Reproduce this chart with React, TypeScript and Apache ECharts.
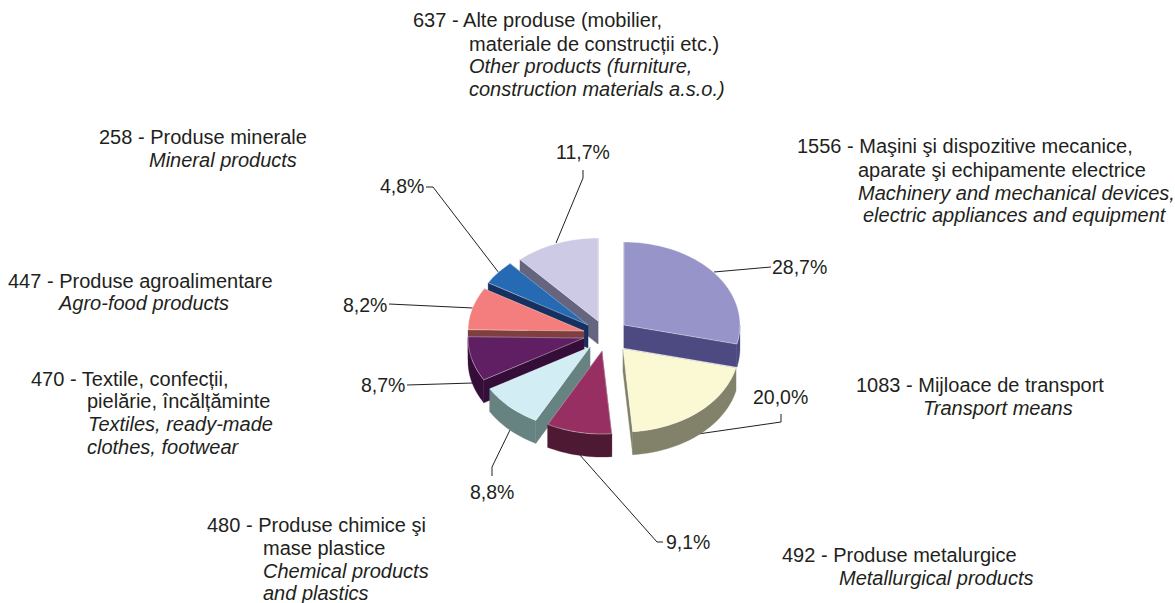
import React, { useEffect, useRef } from "react";
import * as echarts from "echarts";

const names = ["Masini", "Transport", "Metalurgice", "Chimice", "Textile", "Agroalimentare", "Minerale", "Alte"];
const values = [1556, 1083, 492, 480, 470, 447, 258, 637];
const percentLabels = ["28,7%", "20,0%", "9,1%", "8,8%", "8,7%", "8,2%", "4,8%", "11,7%"];
const topColors = ["#9694c8", "#fbf9d4", "#972f62", "#d3edf4", "#611f63", "#f47d7d", "#266ab3", "#cdcae6"];
const sideColors = ["#4c4a80", "#82826a", "#4e1a33", "#668281", "#350d39", "#7f3f3f", "#16305f", "#666580"];
const explodeX = [0, -1, -22, -34, -40, -40, -36, -26];
const explodeY = [0, 24, 26, 22, 13, 6, 0, -4];
const drawOrder = [7, 0, 6, 5, 4, 3, 2, 1];

const CX = 624;
const CY = 325;
const RX = 116;
const RY = 83;
const DEPTH = 23;
const TEXT = "#231f20";
const FONT = "Liberation Sans, Arial, sans-serif";
const FONT_SIZE = 20;
const PCT_SIZE = 19.5;

type Line = [number, number, string, boolean?];
const textLines: Line[] = [
  [413, 20, "637 - Alte produse (mobilier,"],
  [469, 44, "materiale de construcții etc.)"],
  [469, 66, "Other products (furniture,", true],
  [469, 89, "construction materials a.s.o.)", true],
  [99, 137, "258 - Produse minerale"],
  [149, 160, "Mineral products", true],
  [797, 146, "1556 - Maşini şi dispozitive mecanice,"],
  [858, 170, "aparate şi echipamente electrice"],
  [858, 193, "Machinery and mechanical devices,", true],
  [863, 215, "electric appliances and equipment", true],
  [8, 281, "447 - Produse agroalimentare"],
  [59, 303, "Agro-food products", true],
  [31, 379, "470 - Textile, confecții,"],
  [87, 401, "pielărie, încălțăminte"],
  [88, 424, "Textiles, ready-made", true],
  [87, 447, "clothes, footwear", true],
  [207, 525, "480 - Produse chimice şi"],
  [263, 548, "mase plastice"],
  [263, 571, "Chemical products", true],
  [263, 593, "and plastics", true],
  [782, 555, "492 - Produse metalurgice"],
  [839, 578, "Metallurgical products", true],
  [856, 385, "1083 - Mijloace de transport"],
  [923, 408, "Transport means", true],
];
const percentX = [772, 753, 666, 470, 361, 343, 380, 556];
const percentY = [267, 397, 542, 492, 385, 305, 186, 152];
const leaders: number[][][] = [
  [[714, 272], [771, 267]],
  [[698, 434], [781, 422], [781, 414]],
  [[579, 454], [657, 542], [663, 542]],
  [[510, 430], [492, 467], [492, 476]],
  [[473, 383], [407, 385]],
  [[473, 308], [389, 304]],
  [[499, 273], [433, 187], [426, 187]],
  [[556, 243], [583, 178], [583, 170]],
];

const total = values.reduce((a, b) => a + b, 0);
const cumulative: number[] = [];
values.reduce((acc, v, i) => {
  cumulative[i] = acc;
  return acc + v;
}, 0);

function arcPoint(i: number, deg: number, dy = 0): number[] {
  const r = (deg * Math.PI) / 180;
  return [CX + explodeX[i] + RX * Math.sin(r), CY + explodeY[i] - RY * Math.cos(r) + dy];
}

function arc(i: number, a0: number, a1: number, dy = 0): number[][] {
  const n = Math.max(2, Math.ceil(Math.abs(a1 - a0) / 2));
  const pts: number[][] = [];
  for (let k = 0; k <= n; k++) pts.push(arcPoint(i, a0 + ((a1 - a0) * k) / n, dy));
  return pts;
}

function renderSlice(_: any, api: any) {
  const i = api.value(0) as number;
  const a0 = (cumulative[i] / total) * 360;
  const a1 = ((cumulative[i] + values[i]) / total) * 360;
  const apex = [CX + explodeX[i], CY + explodeY[i]];
  const apexLow = [apex[0], apex[1] + DEPTH];
  const side = { fill: sideColors[i], stroke: sideColors[i], lineWidth: 0.3 };
  const children: any[] = [];
  [a0, a1].forEach((a) => {
    children.push({
      type: "polygon",
      shape: { points: [apex, arcPoint(i, a), arcPoint(i, a, DEPTH), apexLow] },
      style: side,
    });
  });
  const w0 = Math.max(a0, 90);
  const w1 = Math.min(a1, 270);
  if (w1 > w0) {
    children.push({
      type: "polygon",
      shape: { points: [...arc(i, w0, w1), ...arc(i, w1, w0, DEPTH)] },
      style: side,
    });
  }
  children.push({
    type: "polygon",
    shape: { points: [apex, ...arc(i, a0, a1)] },
    style: { fill: topColors[i], stroke: "rgba(255,255,255,0.55)", lineWidth: 0.7 },
  });
  return { type: "group", children };
}

export default function App() {
  const ref = useRef<HTMLDivElement>(null);
  useEffect(() => {
    document.body.style.margin = "0";
    const chart = echarts.init(ref.current!, undefined, { renderer: "svg" });
    const graphics: any[] = [];
    leaders.forEach((pts) => {
      graphics.push({
        type: "polyline",
        shape: { points: pts },
        style: { stroke: TEXT, lineWidth: 1, fill: "none" },
        silent: true,
      });
    });
    percentLabels.forEach((t, i) => {
      graphics.push({
        type: "text",
        x: percentX[i],
        y: percentY[i],
        style: { text: t, font: `${PCT_SIZE}px ${FONT}`, fill: TEXT, textAlign: "left", textVerticalAlign: "middle" },
        silent: true,
      });
    });
    textLines.forEach(([x, y, t, italic]) => {
      graphics.push({
        type: "text",
        x,
        y,
        style: {
          text: t,
          font: `${italic ? "italic " : ""}${FONT_SIZE}px ${FONT}`,
          fill: TEXT,
          textAlign: "left",
          textVerticalAlign: "middle",
        },
        silent: true,
      });
    });
    chart.setOption({
      animation: false,
      backgroundColor: "#ffffff",
      graphic: { elements: graphics },
      series: [
        {
          type: "custom",
          name: "Exporturi",
          coordinateSystem: "none",
          silent: true,
          z: 5,
          data: drawOrder.map((i) => ({ name: names[i], value: [i] })),
          renderItem: renderSlice,
        },
      ],
    });
    return () => chart.dispose();
  }, []);
  return <div ref={ref} style={{ position: "absolute", left: 0, top: 0, width: 1175, height: 603 }} />;
}
